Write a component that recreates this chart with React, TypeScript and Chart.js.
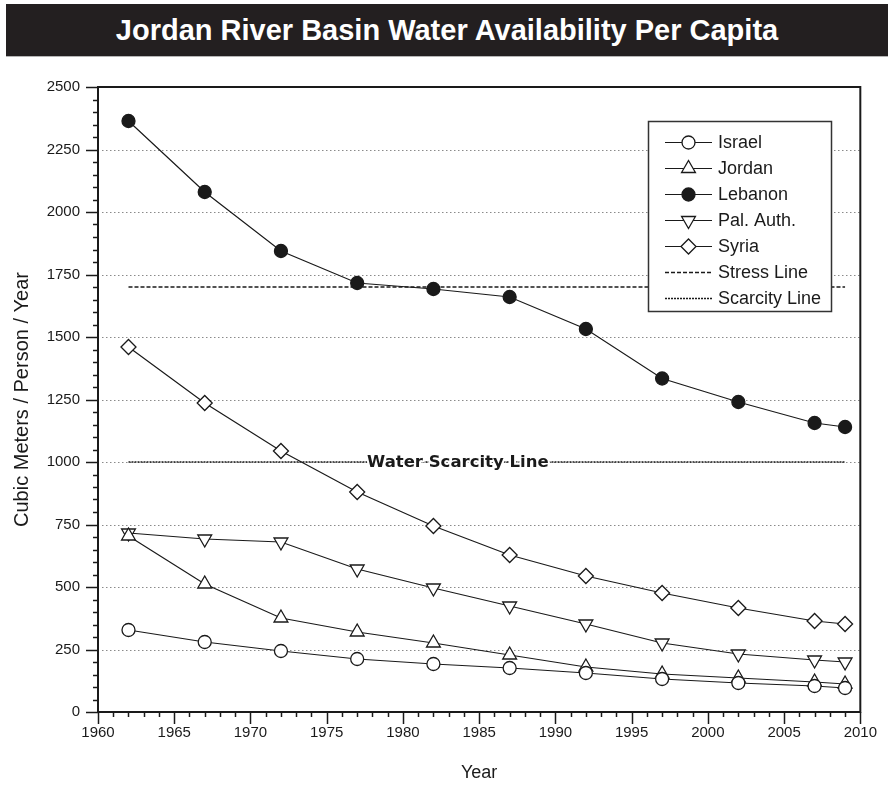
import React, { useEffect, useRef } from 'react';
import { Chart, registerables } from 'chart.js';

Chart.register(...registerables);

const TITLE = 'Jordan River Basin Water Availability Per Capita';
const X_TITLE = 'Year';
const Y_TITLE = 'Cubic Meters / Person / Year';

const YEARS = [1962, 1967, 1972, 1977, 1982, 1987, 1992, 1997, 2002, 2007, 2009];
const ISRAEL = [328, 280, 244, 212, 192, 176, 156, 132, 116, 104, 96];
const JORDAN = [704, 512, 376, 320, 276, 228, 180, 152, 136, 120, 112];
const LEBANON = [2364, 2080, 1844, 1716, 1692, 1660, 1532, 1334, 1240, 1156, 1140];
const PAL_AUTH = [716, 692, 680, 572, 496, 424, 352, 276, 232, 208, 200];
const SYRIA = [1460, 1236, 1044, 880, 744, 628, 544, 476, 416, 364, 352];

const LINE_YEARS = [1962, 2009];
const STRESS_LEVEL = 1700;
const SCARCITY_LEVEL = 1000;
const SCARCITY_LABEL = 'Water Scarcity Line';
const SCARCITY_LABEL_YEAR = 1983.6;

const X_MIN = 1960;
const X_MAX = 2010;
const X_STEP = 5;
const X_MINOR_STEP = 1;
const Y_MIN = 0;
const Y_MAX = 2500;
const Y_STEP = 250;
const Y_MINOR_STEP = 50;

const SERIES_LABELS = ['Israel', 'Jordan', 'Lebanon', 'Pal. Auth.', 'Syria', 'Stress Line', 'Scarcity Line'];

const INK = '#1a1a1a';
const FONT = '"Liberation Sans", Arial, sans-serif';

function pts(xs: number[], ys: number[]) {
  return xs.map((x, i) => ({ x, y: ys[i] }));
}

function drawMarker(ctx: CanvasRenderingContext2D, style: string, r: number, rot: number, x: number, y: number, fill: string) {
  ctx.beginPath();
  if (style === 'circle') {
    ctx.arc(x, y, r, 0, Math.PI * 2);
  } else if (style === 'triangle') {
    const s = rot === 180 ? -1 : 1;
    const h = Math.sin(Math.PI / 3) * r;
    ctx.moveTo(x, y - s * r);
    ctx.lineTo(x + h, y + s * r / 2);
    ctx.lineTo(x - h, y + s * r / 2);
    ctx.closePath();
  } else if (style === 'rectRot') {
    ctx.moveTo(x - r, y);
    ctx.lineTo(x, y - r);
    ctx.lineTo(x + r, y);
    ctx.lineTo(x, y + r);
    ctx.closePath();
  }
  ctx.fillStyle = fill;
  ctx.fill();
  ctx.lineWidth = 1.3;
  ctx.strokeStyle = INK;
  ctx.stroke();
}

const decorPlugin = {
  id: 'decor',
  beforeDatasetsDraw(chart: any) {
    const { ctx, chartArea: a, scales } = chart;
    const y = scales.y;
    ctx.save();
    ctx.strokeStyle = '#8a8a8a';
    ctx.lineWidth = 1;
    ctx.setLineDash([1.5, 2.5]);
    for (let v = Y_MIN + Y_STEP; v < Y_MAX; v += Y_STEP) {
      const py = Math.round(y.getPixelForValue(v)) + 0.5;
      ctx.beginPath();
      ctx.moveTo(a.left + 4, py);
      ctx.lineTo(a.right, py);
      ctx.stroke();
    }
    ctx.restore();
  },
  afterDatasetsDraw(chart: any) {
    const { ctx, scales } = chart;
    const px = scales.x.getPixelForValue(SCARCITY_LABEL_YEAR);
    const py = scales.y.getPixelForValue(SCARCITY_LEVEL);
    ctx.save();
    ctx.font = 'bold 16.5px "DejaVu Sans", sans-serif';
    ctx.textAlign = 'center';
    ctx.textBaseline = 'middle';
    ctx.lineWidth = 4;
    ctx.strokeStyle = '#ffffff';
    ctx.lineJoin = 'round';
    ctx.strokeText(SCARCITY_LABEL, px, py + 1);
    ctx.fillStyle = INK;
    ctx.fillText(SCARCITY_LABEL, px, py + 1);
    ctx.restore();
  },
  afterDraw(chart: any) {
    const { ctx, chartArea: a, scales } = chart;
    const x = scales.x;
    const y = scales.y;
    ctx.save();
    // tick marks
    ctx.strokeStyle = INK;
    ctx.lineWidth = 1.5;
    for (let v = Y_MIN; v <= Y_MAX; v += Y_MINOR_STEP) {
      const py = Math.round(y.getPixelForValue(v)) + 0.5;
      const len = v % Y_STEP === 0 ? 12 : 5;
      ctx.beginPath();
      ctx.moveTo(a.left - len, py);
      ctx.lineTo(a.left, py);
      ctx.stroke();
    }
    for (let v = X_MIN; v <= X_MAX; v += X_MINOR_STEP) {
      const px = Math.round(x.getPixelForValue(v)) + 0.5;
      const len = v % X_STEP === 0 ? 12 : 5;
      ctx.beginPath();
      ctx.moveTo(px, a.bottom);
      ctx.lineTo(px, a.bottom + len);
      ctx.stroke();
    }
    // plot frame
    ctx.lineWidth = 2;
    ctx.strokeRect(a.left, a.top, a.right - a.left, a.bottom - a.top);

    // legend
    const lx = 648, ly = 121, lw = 183, lh = 190;
    ctx.fillStyle = '#ffffff';
    ctx.fillRect(lx, ly, lw, lh);
    ctx.lineWidth = 1.5;
    ctx.strokeStyle = '#333333';
    ctx.strokeRect(lx + 0.5, ly + 0.5, lw, lh);
    const rowH = 26;
    chart.data.datasets.forEach((ds: any, i: number) => {
      const ry = ly + 21 + i * rowH;
      ctx.save();
      ctx.strokeStyle = INK;
      ctx.lineWidth = ds.borderDash && ds.borderDash.length ? 1.5 : 1.2;
      ctx.setLineDash(ds.borderDash || []);
      ctx.beginPath();
      ctx.moveTo(665, ry + 0.5);
      ctx.lineTo(712, ry + 0.5);
      ctx.stroke();
      ctx.restore();
      if (ds.pointRadius > 0) {
        drawMarker(ctx, ds.pointStyle, ds.pointRadius, ds.pointRotation || 0, 688.5, ry + 0.5, ds.pointBackgroundColor);
      }
      ctx.fillStyle = INK;
      ctx.font = '18px ' + FONT;
      ctx.textAlign = 'left';
      ctx.textBaseline = 'middle';
      ctx.fillText(ds.label, 718, ry + 1);
    });
    ctx.restore();
  },
};

function seriesDataset(label: string, ys: number[], style: string, radius: number, fill: string, rotation = 0) {
  return {
    label,
    data: pts(YEARS, ys),
    borderColor: INK,
    borderWidth: 1.2,
    pointStyle: style,
    pointRadius: radius,
    pointRotation: rotation,
    pointBackgroundColor: fill,
    pointBorderColor: INK,
    pointBorderWidth: 1.3,
    tension: 0,
    fill: false,
  };
}

export default function App() {
  const ref = useRef<HTMLCanvasElement | null>(null);
  useEffect(() => {
    if (!ref.current) return;
    const chart = new Chart(ref.current, {
      type: 'line',
      data: {
        datasets: [
          seriesDataset(SERIES_LABELS[0], ISRAEL, 'circle', 6.5, '#ffffff'),
          seriesDataset(SERIES_LABELS[1], JORDAN, 'triangle', 8, '#ffffff'),
          seriesDataset(SERIES_LABELS[2], LEBANON, 'circle', 6.5, INK),
          seriesDataset(SERIES_LABELS[3], PAL_AUTH, 'triangle', 8, '#ffffff', 180),
          seriesDataset(SERIES_LABELS[4], SYRIA, 'rectRot', 7.5, '#ffffff'),
          {
            label: SERIES_LABELS[5],
            data: pts(LINE_YEARS, LINE_YEARS.map(() => STRESS_LEVEL)),
            borderColor: INK,
            borderWidth: 1.6,
            borderDash: [4, 2],
            pointRadius: 0,
            fill: false,
          } as any,
          {
            label: SERIES_LABELS[6],
            data: pts(LINE_YEARS, LINE_YEARS.map(() => SCARCITY_LEVEL)),
            borderColor: INK,
            borderWidth: 1.4,
            borderDash: [2, 1],
            pointRadius: 0,
            fill: false,
          } as any,
        ],
      },
      options: {
        responsive: false,
        animation: false,
        devicePixelRatio: 1,
        events: [],
        layout: { padding: { left: 0, top: 87, right: 21, bottom: 0 } },
        plugins: {
          legend: { display: false },
          tooltip: { enabled: false },
          title: { display: false },
        },
        scales: {
          x: {
            type: 'linear',
            min: X_MIN,
            max: X_MAX,
            grid: { display: false, drawTicks: false },
            border: { display: false },
            ticks: {
              stepSize: X_STEP,
              padding: 12,
              color: INK,
              font: { family: FONT, size: 15 },
              callback: (v: any) => String(v),
              maxRotation: 0,
            },
            title: {
              display: true,
              text: X_TITLE,
              color: INK,
              font: { family: FONT, size: 18 },
              padding: { top: 0, bottom: 2 },
            },
            afterFit: (s: any) => { s.height = 74; },
          },
          y: {
            type: 'linear',
            min: Y_MIN,
            max: Y_MAX,
            grid: { display: false, drawTicks: false },
            border: { display: false },
            ticks: {
              stepSize: Y_STEP,
              padding: 18,
              color: INK,
              font: { family: FONT, size: 15 },
              callback: (v: any) => String(v),
            },
            title: {
              display: true,
              text: Y_TITLE,
              color: INK,
              font: { family: FONT, size: 20 },
              padding: { top: 10, bottom: 0 },
            },
            afterFit: (s: any) => { s.width = 98; },
          },
        },
      } as any,
      plugins: [decorPlugin],
    });
    return () => chart.destroy();
  }, []);

  return (
    <div style={{ position: 'absolute', left: 0, top: 0, width: 889, height: 786, background: '#ffffff' }}>
      <canvas ref={ref} width={889} height={786} style={{ position: 'absolute', left: 0, top: 0 }} />
      <div
        style={{
          position: 'absolute',
          left: 6,
          top: 4,
          width: 882,
          height: 52,
          background: '#231f20',
          borderBottom: '1px solid #b5b5b5',
          color: '#ffffff',
          display: 'flex',
          alignItems: 'center',
          justifyContent: 'center',
          fontFamily: FONT,
          fontWeight: 'bold',
          fontSize: 29,
          zIndex: 1,
        }}
      >
        {TITLE}
      </div>
    </div>
  );
}
